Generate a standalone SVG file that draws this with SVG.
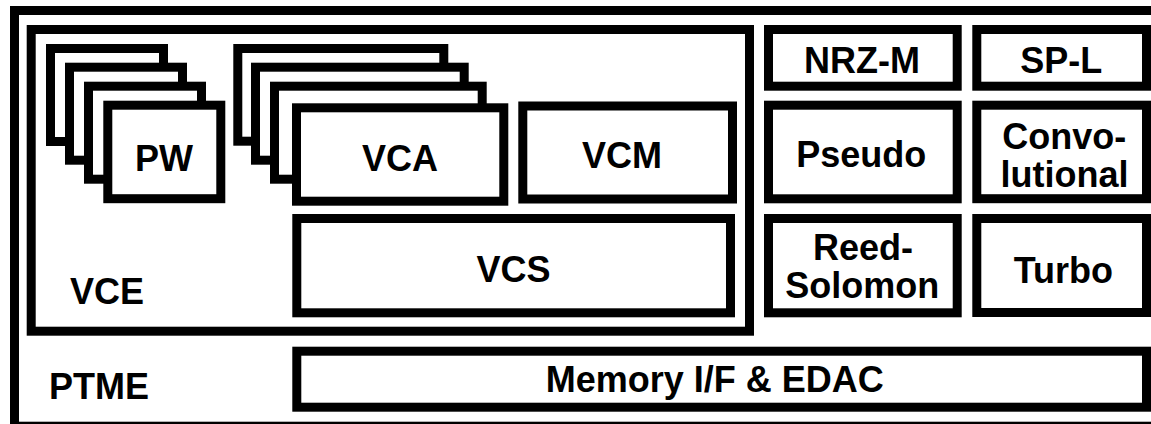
<svg xmlns="http://www.w3.org/2000/svg" width="1151" height="424" viewBox="0 0 1151 424">
<style>
.b{fill:#fff;stroke:#000;stroke-width:9}
.f{fill:none;stroke:#000;stroke-width:9}
text{font-family:"Liberation Sans",Arial,sans-serif;font-weight:bold;font-size:36px;fill:#000}
.m{text-anchor:middle}
</style>
<rect width="1151" height="424" fill="#fff"/>
<g id="PTME">
<rect class="f" x="14.5" y="10.5" width="1150" height="415.7"/>
<text x="49" y="399">PTME</text>
</g>
<g id="VCE">
<rect class="f" x="31.2" y="29.5" width="718.3" height="301.7"/>
<text x="70" y="304">VCE</text>
</g>
<g id="PW">
<rect class="b" x="50.5" y="48.5" width="113" height="93"/>
<rect class="b" x="69.5" y="67.2" width="113" height="93"/>
<rect class="b" x="88.5" y="86.2" width="113" height="93"/>
<rect class="b" x="107.8" y="105.2" width="113" height="93.5"/>
<text class="m" x="164" y="170.5">PW</text>
</g>
<g id="VCA">
<rect class="b" x="237.8" y="48.5" width="206" height="92.7"/>
<rect class="b" x="255.5" y="67.2" width="208.7" height="93"/>
<rect class="b" x="274.5" y="86.2" width="207.7" height="93"/>
<rect class="b" x="296.5" y="107.8" width="207.3" height="93.4"/>
<text class="m" x="400" y="170.5">VCA</text>
</g>
<g id="VCM">
<rect class="b" x="522.8" y="106" width="209.7" height="93"/>
<text class="m" x="622" y="167.7">VCM</text>
</g>
<g id="VCS">
<rect class="b" x="296.8" y="218.5" width="433.7" height="94.3"/>
<text class="m" x="513.5" y="281.5">VCS</text>
</g>
<g id="NRZ-M">
<rect class="b" x="768.5" y="29.5" width="188.7" height="56.7"/>
<text class="m" x="862" y="73.3">NRZ-M</text>
</g>
<g id="SP-L">
<rect class="b" x="976.8" y="29.5" width="169.7" height="56.7"/>
<text class="m" x="1061.3" y="73.3">SP-L</text>
</g>
<g id="Pseudo">
<rect class="b" x="768.5" y="105.2" width="188.7" height="93.6"/>
<text class="m" x="861.3" y="166.5">Pseudo</text>
</g>
<g id="Convolutional">
<rect class="b" x="976.8" y="105.2" width="169.7" height="93.5"/>
<text class="m" x="1064.2" y="149">Convo-</text>
<text class="m" x="1064.5" y="187">lutional</text>
</g>
<g id="ReedSolomon">
<rect class="b" x="768.5" y="218.5" width="188.7" height="94.3"/>
<text class="m" x="863" y="260">Reed-</text>
<text class="m" x="862.2" y="298">Solomon</text>
</g>
<g id="Turbo">
<rect class="b" x="976.8" y="218.5" width="169.7" height="94"/>
<text class="m" x="1063.3" y="282.5">Turbo</text>
</g>
<g id="Memory">
<rect class="b" x="296.8" y="351.2" width="849.7" height="56"/>
<text class="m" x="714.7" y="392">Memory I/F &amp; EDAC</text>
</g>
<g id="connectors"/>
</svg>
